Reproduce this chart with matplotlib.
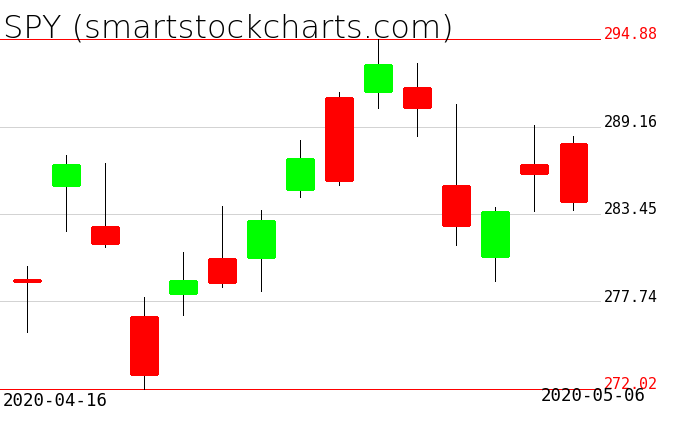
import matplotlib
matplotlib.use("Agg")
import matplotlib.pyplot as plt

# SPY daily candles
dates = ["2020-04-16", "2020-04-17", "2020-04-20", "2020-04-21", "2020-04-22",
         "2020-04-23", "2020-04-24", "2020-04-27", "2020-04-28", "2020-04-29",
         "2020-04-30", "2020-05-01", "2020-05-04", "2020-05-05", "2020-05-06"]
opens = [279.15, 285.36, 282.62, 276.74, 278.31, 280.53, 280.66, 285.10,
         291.03, 291.50, 291.68, 285.28, 280.73, 286.67, 288.04]
highs = [280.07, 287.32, 286.80, 278.03, 280.97, 283.97, 283.73, 288.28,
         291.42, 294.88, 293.33, 290.63, 283.93, 289.26, 288.52]
lows = [275.72, 282.36, 281.31, 272.02, 276.87, 278.70, 278.44, 284.58,
        285.36, 290.39, 288.56, 281.44, 279.09, 283.67, 283.73]
closes = [279.09, 286.67, 281.58, 273.02, 279.07, 279.03, 283.01, 287.06,
          285.69, 293.20, 290.46, 282.75, 283.60, 286.15, 284.32]

levels = [294.88, 289.16, 283.45, 277.74, 272.02]
level_labels = ["294.88", "289.16", "283.45", "277.74", "272.02"]
title = "SPY (smartstockcharts.com)"

W, H = 676, 431
fig = plt.figure(figsize=(W / 100, H / 100), dpi=100)
ax = fig.add_axes([0, 0, 1, 1])

# pixel mapping: first candle at x=26.7, spacing 39.05; 294.88 at y=40, 272.02 at y=390
x0, step = 26.7, 39.05
ax.set_xlim(-x0 / step, (W - x0) / step)
ppy = (levels[0] - levels[-1]) / 350.0
ax.set_ylim(levels[-1] - (H - 390) * ppy, levels[0] + 40 * ppy)
ax.axis("off")

line_end = (600 - x0) / step
for lv, lab in zip(levels, level_labels):
    edge = lv in (levels[0], levels[-1])
    ax.hlines(lv, -1, line_end, color="#ff0000" if edge else "#d3d3d3",
              lw=0.72, antialiased=False, zorder=1)
    ax.text((604 - x0) / step, lv + 0.05, lab, color="#ff0000" if edge else "black",
            fontsize=10.8, family="DejaVu Sans Mono", va="baseline", ha="left", zorder=5)

for i, (o, h, l, c) in enumerate(zip(opens, highs, lows, closes)):
    col = "#00ff00" if c >= o else "#ff0000"
    ax.vlines(i, l, h, color="black", lw=0.72, antialiased=False, zorder=2)
    ax.bar(i, abs(c - o), bottom=min(o, c), width=0.66, color=col,
           edgecolor=col, linewidth=0.75, joinstyle="miter",
           antialiased=False, zorder=3)

ax.text(3 / W, 1 - 38 / H, title, transform=ax.transAxes, fontsize=23,
        family="DejaVu Sans", weight="light", color="black",
        va="baseline", ha="left", zorder=6)
ax.text(3 / W, 1 - 406 / H, dates[0], transform=ax.transAxes, fontsize=12.5,
        family="DejaVu Sans Mono", va="baseline", ha="left", zorder=6)
ax.text(646 / W, 1 - 401 / H, dates[-1], transform=ax.transAxes, fontsize=12.5,
        family="DejaVu Sans Mono", va="baseline", ha="right", zorder=6)

fig.savefig("out.png", dpi=100, facecolor="white")
